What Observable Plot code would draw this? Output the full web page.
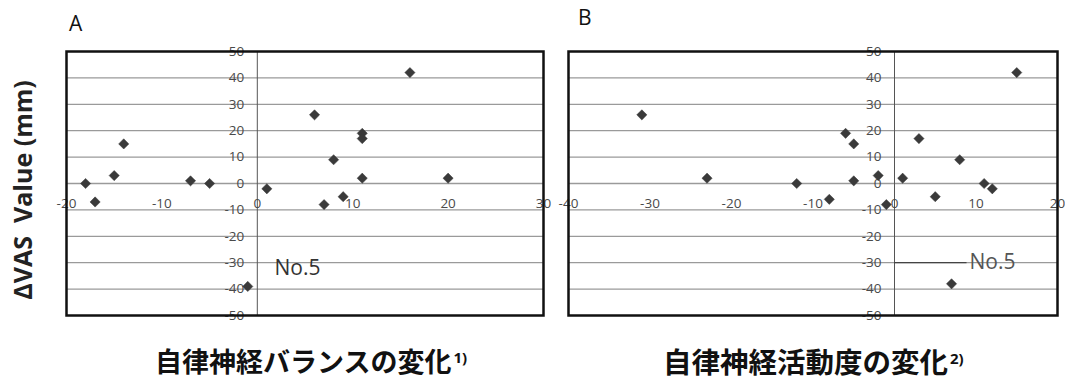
<!DOCTYPE html>
<html>
<head>
<meta charset="utf-8">
<script src="https://cdn.jsdelivr.net/npm/d3@7"></script>
<script src="https://cdn.jsdelivr.net/npm/@observablehq/plot@0.6"></script>
<style>
  html, body { margin: 0; padding: 0; background: #fff; }
  #wrap { position: relative; width: 1065px; height: 380px; background: #fff; overflow: hidden; font-family: "Open Sans", "Noto Sans", sans-serif; }
  .abs { position: absolute; white-space: nowrap; }
  .panel { position: absolute; top: 0; }
  .ttl { font-family: "Noto Sans CJK JP", sans-serif; font-weight: 700; color: #111; line-height: 30px; }
  .ttl sup { font-family: "Open Sans", sans-serif; font-size: 15px; vertical-align: 0; position: relative; top: -9px; margin-left: 2px; }
</style>
</head>
<body>
<div id="wrap">
  <div class="abs" style="left:69px;top:9px;font-size:21px;color:#111;">A</div>
  <div class="abs" style="left:578px;top:3px;font-size:21px;color:#111;">B</div>
  <div class="abs" style="left:22px;top:190px;transform:translate(-50%,-50%) rotate(-90deg);font-size:25px;font-weight:700;color:#222;">ΔVAS&nbsp;&nbsp;Value (mm)</div>
  <div class="abs ttl" style="left:155px;top:346px;font-size:27px;">自律神経バランスの変化<sup>1)</sup></div>
  <div class="abs ttl" style="left:663px;top:346px;font-size:28.5px;">自律神経活動度の変化<sup>2)</sup></div>
  <div id="pa" class="panel" style="left:0px;"></div>
  <div id="pb" class="panel" style="left:550px;"></div>
</div>
<script>
// ---- data ----
const yTicks = [-50, -40, -30, -20, -10, 0, 10, 20, 30, 40, 50];
const gridY = [-40, -30, -20, -10, 0, 10, 20, 30, 40];

const xTicksA = [-20, -10, 0, 10, 20, 30];
const aX = [-18, -17, -15, -14, -7, -5, -1, 1, 6, 7, 8, 9, 11, 11, 11, 16, 20];
const aY = [0, -7, 3, 15, 1, 0, -39, -2, 26, -8, 9, -5, 19, 17, 2, 42, 2];

const xTicksB = [-40, -30, -20, -10, 0, 10, 20];
const bX = [-31, -23, -12, -8, -6, -5, -5, -2, -1, 1, 3, 5, 7, 8, 11, 12, 15];
const bY = [26, 2, 0, -6, 19, 15, 1, 3, -8, 2, 17, -5, -38, 9, 0, -2, 42];

const noteLabel = "No.5";
const noteA = {x: 1.8, y: -32};
const noteB = {x: 9.2, y: -30, lineFrom: 0};

function panel({xDomain, xTicks, xs, ys, width, marginLeft, marginRight, note, noteColor, leader}) {
  const pts = xs.map((x, i) => ({x, y: ys[i]}));
  const marks = [
    Plot.ruleY(gridY, {stroke: "#9a9a9a", strokeWidth: 1.3}),
    Plot.ruleX([0], {stroke: "#555", strokeWidth: 1}),
  ];
  if (leader) {
    marks.push(Plot.ruleY([note.y], {x1: note.lineFrom, x2: note.x - 0.3, stroke: "#444", strokeWidth: 1.3}));
  }
  marks.push(
    Plot.text(yTicks, {x: 0, y: d => d, text: d => String(d), dx: -13, textAnchor: "end", fill: "#4a4a4a", fontSize: 13.5}),
    Plot.text(xTicks, {x: d => d, y: 0, text: d => String(d), dy: 20, fill: "#4a4a4a", fontSize: 13.5}),
    Plot.dot(pts, {x: "x", y: "y", symbol: "diamond2", r: 4.6, fill: "#3a3a3a", stroke: "#3a3a3a", strokeWidth: 0.5}),
    Plot.text([note], {x: "x", y: "y", text: () => noteLabel, textAnchor: "start", fontSize: 21, fill: noteColor}),
    Plot.frame({stroke: "#111", strokeWidth: 2.5})
  );
  return Plot.plot({
    width, height: 330,
    marginLeft, marginRight, marginTop: 51, marginBottom: 15,
    x: {domain: xDomain, axis: null},
    y: {domain: [-50, 50], axis: null},
    style: {fontFamily: "'Open Sans', sans-serif", background: "transparent", overflow: "visible"},
    marks
  });
}

document.getElementById("pa").append(panel({
  xDomain: [-20, 30], xTicks: xTicksA, xs: aX, ys: aY,
  width: 550, marginLeft: 66, marginRight: 7,
  note: noteA, noteColor: "#333", leader: false
}));
document.getElementById("pb").append(panel({
  xDomain: [-40, 20], xTicks: xTicksB, xs: bX, ys: bY,
  width: 515, marginLeft: 18, marginRight: 8,
  note: noteB, noteColor: "#555", leader: true
}));
</script>
</body>
</html>
